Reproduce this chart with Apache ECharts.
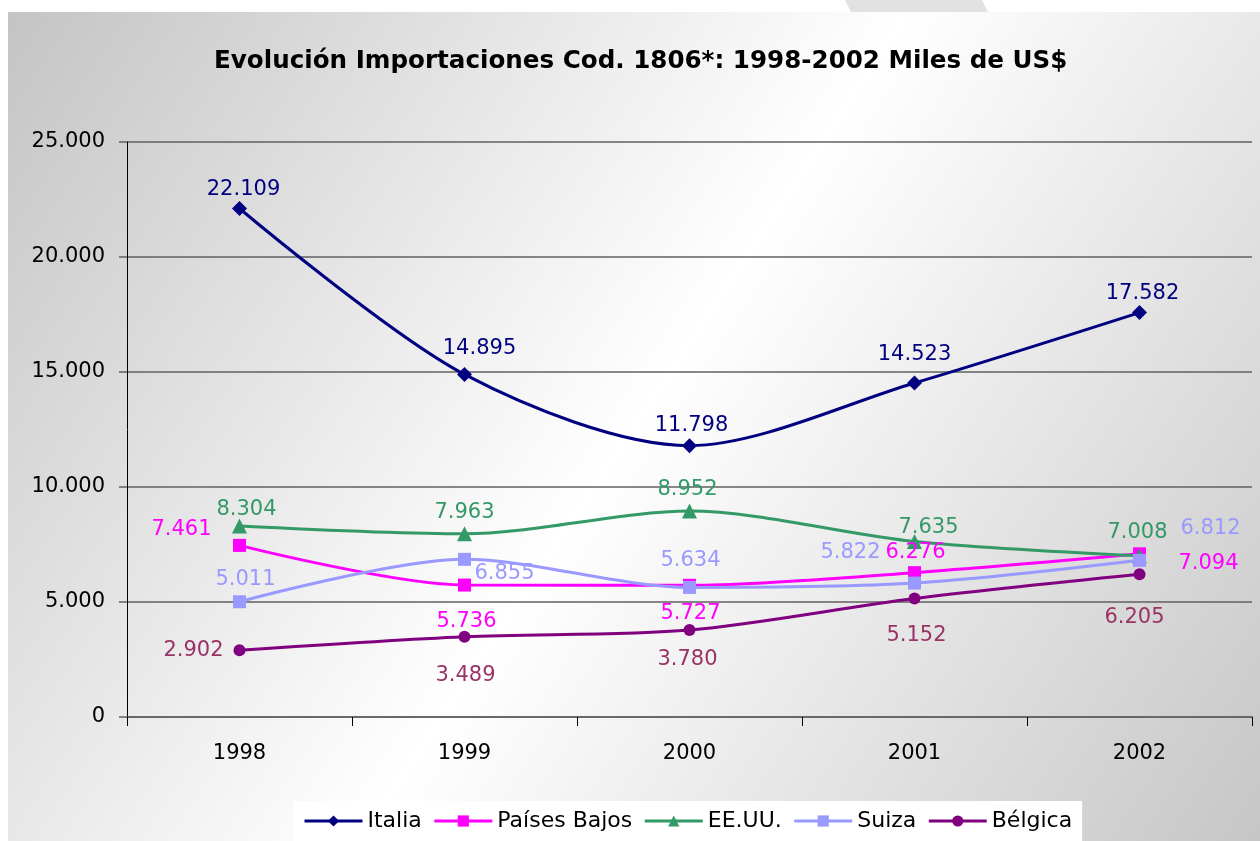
<!DOCTYPE html>
<html>
<head>
<meta charset="utf-8">
<script src="https://cdn.jsdelivr.net/npm/echarts@6/dist/echarts.min.js"></script>
<style>
  html, body { margin: 0; padding: 0; background: #fff; }
  #chart { width: 1260px; height: 841px; }
</style>
</head>
<body>
<div id="chart"></div>
<script>
// datos
const years = ["1998", "1999", "2000", "2001", "2002"];
const italia = [22109, 14895, 11798, 14523, 17582];
const paisesBajos = [7461, 5736, 5727, 6276, 7094];
const eeuu = [8304, 7963, 8952, 7635, 7008];
const suiza = [5011, 6855, 5634, 5822, 6812];
const belgica = [2902, 3489, 3780, 5152, 6205];

// desplazamiento de las etiquetas respecto al punto
const offItalia = [[4, -19], [15, -26], [2, -20], [0, -28], [3, -19]];
const offPaises = [[-58, -16], [2, 36], [1, 28], [1, -20], [69, 10]];
const offEeuu = [[7, -16], [0, -21], [-2, -22], [14, -14], [-2, -23]];
const offSuiza = [[6, -22], [40, 14], [1, -27], [-64, -31], [71, -32]];
const offBelgica = [[-46, 0], [1, 39], [-2, 29], [2, 37], [-5, 43]];

const fmt = v => String(Math.round(v)).replace(/\B(?=(\d{3})+(?!\d))/g, ".");
const FONT = "DejaVu Sans";

const makeSeries = (name, values, offsets, color, labelColor, symbol, size) => ({
  name,
  type: "line",
  smooth: 0.3,
  symbol,
  symbolSize: size,
  itemStyle: { color },
  lineStyle: { color, width: 3 },
  data: values.map((v, i) => ({
    value: v,
    label: { offset: offsets[i] }
  })),
  label: {
    show: true,
    position: "inside",
    color: labelColor,
    fontFamily: FONT,
    fontSize: 21,
    formatter: p => fmt(p.value)
  }
});

const myChart = echarts.init(document.getElementById("chart"));

const option = {
  backgroundColor: "#ffffff",
  animation: false,
  graphic: [
    {
      type: "rect",
      z: -10,
      silent: true,
      shape: { x: 8, y: 12, width: 1252, height: 829 },
      style: {
        fill: new echarts.graphic.LinearGradient(0, 0, 1, 1, [
          { offset: 0, color: "#c4c4c4" },
          { offset: 0.5, color: "#ffffff" },
          { offset: 1, color: "#c6c6c6" }
        ])
      }
    },
    {
      type: "polygon",
      z: -9,
      silent: true,
      shape: { points: [[845, 0], [982, 0], [988, 12], [851, 12]] },
      style: { fill: "#e2e2e2" }
    }
  ],
  title: {
    text: "Evolución Importaciones Cod. 1806*: 1998-2002 Miles de US$",
    left: 209,
    top: 44,
    textStyle: {
      fontFamily: FONT,
      fontWeight: "bold",
      fontSize: 24.6,
      color: "#000"
    }
  },
  legend: {
    bottom: 0,
    left: 293,
    backgroundColor: "#ffffff",
    padding: [9, 10, 9, 10],
    itemGap: 11,
    itemWidth: 58,
    itemHeight: 14,
    lineStyle: { width: 3 },
    textStyle: { fontFamily: FONT, fontSize: 22, color: "#000" },
    data: ["Italia", "Países Bajos", "EE.UU.", "Suiza", "Bélgica"]
  },
  grid: {
    left: 127,
    right: 8,
    top: 142,
    bottom: 124
  },
  xAxis: {
    type: "category",
    data: years,
    boundaryGap: true,
    axisLine: { lineStyle: { color: "#606060", width: 1.5 } },
    axisTick: { show: true, length: 9, lineStyle: { color: "#000" } },
    axisLabel: { fontFamily: FONT, fontSize: 21, color: "#000", margin: 26 }
  },
  yAxis: {
    type: "value",
    min: 0,
    max: 25000,
    interval: 5000,
    axisLine: { show: true, lineStyle: { color: "#000", width: 1 } },
    axisTick: { show: true, length: 8, lineStyle: { color: "#606060", width: 1.5 } },
    splitLine: { lineStyle: { color: "#606060", width: 1.5 } },
    axisLabel: {
      fontFamily: FONT,
      fontSize: 21,
      color: "#000",
      margin: 22,
      formatter: v => fmt(v)
    }
  },
  series: [
    makeSeries("Italia", italia, offItalia, "#000080", "#000080", "diamond", 15),
    makeSeries("Países Bajos", paisesBajos, offPaises, "#ff00ff", "#ff00ff", "rect", 13),
    makeSeries("EE.UU.", eeuu, offEeuu, "#339966", "#339966", "triangle", 15),
    makeSeries("Suiza", suiza, offSuiza, "#9999ff", "#9999ff", "rect", 13),
    makeSeries("Bélgica", belgica, offBelgica, "#800080", "#993366", "circle", 12)
  ]
};

myChart.setOption(option);
</script>
</body>
</html>
